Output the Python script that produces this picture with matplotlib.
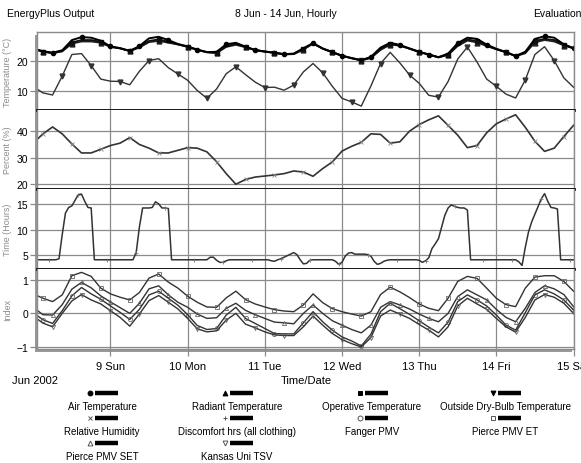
import numpy as np
import matplotlib.pyplot as plt
from matplotlib.patches import Rectangle

plt.rcParams['font.family'] = ['Liberation Sans Narrow', 'Liberation Sans', 'DejaVu Sans']

# 3-hourly samples, hours from 8 Jun 00:00
hours = np.arange(0, 169, 3)

air_temp = [24.0, 23.1, 22.6, 23.4, 26.8, 27.8, 27.6, 26.6, 24.7, 24.1, 23.2, 24.8, 27.4, 27.9, 26.8,
            25.5, 24.7, 23.6, 22.8, 22.9, 25.4, 25.9, 24.6, 23.5, 23.0, 22.6, 22.1, 22.3, 24.1, 25.8,
            24.0, 22.8, 21.6, 20.8, 20.1, 21.2, 24.3, 25.9, 25.2, 24.0, 22.9, 22.0, 21.1, 22.3, 25.8,
            27.6, 27.2, 25.3, 23.9, 22.8, 21.5, 22.9, 27.2, 28.1, 27.6, 25.4, 24.1]
radiant_temp = [23.8, 22.9, 22.4, 23.0, 25.6, 26.3, 26.3, 25.9, 24.5, 24.0, 23.1, 24.3, 26.1, 26.5, 25.9,
                25.3, 24.5, 23.5, 22.7, 22.4, 24.5, 25.2, 24.4, 23.4, 22.9, 22.5, 22.0, 22.1, 23.6, 25.6,
                23.9, 22.7, 21.5, 20.7, 20.0, 20.8, 23.5, 25.3, 24.9, 23.9, 22.8, 21.9, 21.0, 21.8, 24.8,
                26.6, 26.0, 24.8, 23.7, 22.7, 21.4, 22.4, 26.0, 26.8, 26.3, 25.0, 24.0]
operative_temp = [23.9, 23.0, 22.5, 23.2, 26.0, 26.8, 26.8, 26.2, 24.6, 24.1, 23.2, 24.5, 26.5, 27.0, 26.2,
                  25.4, 24.6, 23.6, 22.8, 22.6, 24.8, 25.5, 24.5, 23.5, 23.0, 22.6, 22.1, 22.2, 23.8, 25.7,
                  24.0, 22.8, 21.6, 20.8, 20.1, 21.0, 23.8, 25.5, 25.0, 24.0, 22.9, 22.0, 21.1, 22.0, 25.2,
                  27.0, 26.4, 25.0, 23.8, 22.8, 21.5, 22.6, 26.5, 27.2, 26.8, 25.2, 24.1]
outside_temp = [11.3, 9.2, 8.5, 14.8, 22.0, 22.3, 18.3, 13.8, 13.1, 13.0, 11.9, 16.4, 20.0, 20.6, 17.6,
                15.5, 13.4, 10.0, 7.4, 10.5, 15.6, 17.9, 15.3, 12.8, 11.0, 11.1, 10.1, 11.8, 16.2, 19.0,
                15.9, 11.4, 7.4, 6.2, 4.8, 11.5, 19.0, 22.7, 19.2, 15.2, 12.4, 8.4, 7.8, 13.0, 20.5,
                24.5, 19.5, 13.8, 11.4, 8.8, 7.5, 13.5, 22.0, 24.6, 20.0, 14.2, 11.1]
rel_humidity = [35.5, 39.0, 41.6, 39.0, 35.2, 31.8, 31.8, 33.2, 34.6, 35.5, 37.6, 35.0, 33.6, 31.8, 31.8,
                32.8, 33.8, 33.6, 32.2, 28.5, 24.0, 20.0, 21.8, 22.7, 23.1, 23.5, 24.0, 25.0, 24.6, 23.0,
                25.9, 28.4, 32.5, 34.3, 35.8, 39.0, 38.8, 35.5, 36.0, 40.0, 42.5, 44.3, 45.8, 42.2, 38.5,
                33.8, 34.6, 39.4, 42.8, 44.6, 46.2, 41.5, 36.2, 32.4, 33.6, 38.0, 42.2]
pmv_et = [0.58, 0.45, 0.35, 0.55, 1.12, 1.22, 1.10, 0.75, 0.58, 0.48, 0.40, 0.62, 1.05, 1.17, 0.93,
          0.75, 0.51, 0.33, 0.19, 0.18, 0.46, 0.66, 0.41, 0.28, 0.19, 0.11, 0.07, 0.05, 0.25, 0.58,
          0.32, 0.14, 0.05, -0.02, -0.08, 0.05, 0.56, 0.78, 0.64, 0.47, 0.28, 0.15, 0.08, 0.45, 0.95,
          1.10, 1.04, 0.75, 0.45, 0.26, 0.20, 0.75, 1.08, 1.12, 1.12, 0.95, 0.66]
pmv_set = [0.18, -0.04, -0.05, 0.26, 0.72, 0.92, 0.76, 0.52, 0.34, 0.17, 0.00, 0.30, 0.73, 0.82, 0.55,
           0.33, 0.18, -0.02, -0.15, -0.13, 0.15, 0.30, 0.09, -0.04, -0.15, -0.26, -0.28, -0.31, 0.00, 0.25,
           0.00, -0.22, -0.35, -0.48, -0.58, -0.35, 0.18, 0.35, 0.25, 0.13, -0.02, -0.15, -0.25, 0.00, 0.50,
           0.70, 0.55, 0.40, 0.12, -0.12, -0.25, 0.15, 0.62, 0.82, 0.73, 0.56, 0.20]
fanger_pmv = [0.02, -0.19, -0.30, 0.08, 0.52, 0.77, 0.58, 0.42, 0.22, 0.03, -0.18, 0.12, 0.55, 0.66, 0.45,
              0.24, -0.04, -0.36, -0.48, -0.45, -0.05, 0.18, -0.15, -0.30, -0.45, -0.60, -0.61, -0.61, -0.28, 0.05,
              -0.25, -0.50, -0.70, -0.82, -0.97, -0.62, 0.05, 0.30, 0.14, -0.03, -0.22, -0.41, -0.58, -0.26, 0.35,
              0.55, 0.40, 0.22, -0.05, -0.35, -0.50, 0.02, 0.55, 0.70, 0.58, 0.40, 0.10]
kansas_tsv = [-0.08, -0.29, -0.40, 0.00, 0.37, 0.56, 0.40, 0.28, 0.08, -0.12, -0.38, -0.02, 0.38, 0.53, 0.33,
              0.13, -0.15, -0.46, -0.55, -0.52, -0.20, 0.00, -0.32, -0.43, -0.55, -0.64, -0.66, -0.66, -0.40, -0.08,
              -0.35, -0.60, -0.78, -0.90, -1.00, -0.72, -0.08, 0.10, -0.02, -0.15, -0.33, -0.50, -0.70, -0.40, 0.22,
              0.45, 0.28, 0.12, -0.15, -0.40, -0.56, -0.12, 0.40, 0.56, 0.48, 0.30, 0.00]

# hourly discomfort hours, 01:00 8 Jun .. 24:00 14 Jun
hours_hourly = np.arange(1, 169)
discomfort = [
    4.1, 4.1, 4.1, 4.1, 4.1, 4.1, 4.1, 4.3, 9.0, 13.2, 14.3, 14.6, 15.7, 16.8, 16.9, 15.5, 14.3, 14.2, 4.1, 4.1, 4.1, 4.1, 4.1, 4.1,
    4.1, 4.1, 4.1, 4.1, 4.1, 4.1, 4.1, 5.5, 10.5, 14.2, 14.2, 14.2, 14.3, 15.4, 15.0, 14.2, 14.2, 14.1, 4.1, 4.1, 4.1, 4.1, 4.1, 4.1,
    4.1, 4.1, 4.1, 4.1, 4.1, 4.1, 4.6, 4.6, 4.0, 3.6, 3.6, 3.9, 4.1, 4.1, 4.1, 4.1, 4.1, 4.1, 4.1, 4.1, 4.1, 4.1, 4.1, 4.1,
    4.1, 3.9, 3.8, 4.1, 4.3, 4.6, 4.9, 5.2, 5.5, 5.1, 4.1, 3.3, 3.4, 4.0, 4.1, 4.1, 4.1, 4.1, 4.1, 4.1, 4.1, 3.8, 3.2, 3.6,
    4.8, 5.4, 5.5, 5.2, 5.2, 5.2, 5.2, 5.1, 4.8, 3.8, 3.2, 3.4, 3.8, 4.0, 4.1, 4.1, 4.1, 4.1, 4.1, 4.1, 4.1, 4.1, 4.1, 4.0,
    3.6, 3.9, 4.5, 6.3, 7.2, 8.2, 10.5, 12.8, 14.2, 14.8, 14.5, 14.3, 14.2, 14.2, 13.8, 4.1, 4.1, 4.1, 4.1, 4.1, 4.1, 4.1, 4.1, 4.1,
    4.1, 4.1, 4.1, 4.1, 4.1, 4.1, 3.7, 3.0, 6.5, 9.5, 11.5, 13.0, 14.5, 16.0, 17.0, 15.5, 14.3, 14.2, 14.0, 4.1, 4.1, 4.1, 4.1, 4.1,
]

day_labels = ['9 Sun', '10 Mon', '11 Tue', '12 Wed', '13 Thu', '14 Fri', '15 Sat']

W, H = 581, 464
fig = plt.figure(figsize=(W / 100, H / 100), dpi=100)


def fx(px):
    return px / W


def fy(py):
    return 1 - py / H


left, right = 36.5, 573.5
panel_edges = [33, 111, 190, 270, 350]
ylims = [(3.5, 29.5), (18.2, 48.0), (2.3, 17.9), (-1.06, 1.32)]
yticks = [[10, 20], [20, 30, 40], [5, 10, 15], [-1, 0, 1]]
ylabels = ['Temperature (\u00b0C)', 'Percent (%)', 'Time (Hours)', 'Index']

# drop shadow behind the plot frame
fig.patches.append(Rectangle((fx(left - 2), fy(panel_edges[-1] + 3)), (right - left) / W,
                             (panel_edges[-1] - panel_edges[0]) / H, transform=fig.transFigure,
                             facecolor='#9a9a9a', edgecolor='none', zorder=-5))

axes = []
for i in range(4):
    top, bot = panel_edges[i], panel_edges[i + 1]
    ax = fig.add_axes([fx(left), fy(bot), (right - left) / W, (bot - top) / H])
    ax.set_xlim(1 / 24, 7)
    ax.set_ylim(*ylims[i])
    ax.set_yticks(yticks[i])
    ax.set_xticks(range(1, 8))
    ax.grid(True, color='#8a8a8a', linewidth=0.9)
    ax.set_axisbelow(True)
    ax.tick_params(axis='y', length=5, width=0.9, color='#8a8a8a', pad=1, labelsize=7.5)
    ax.tick_params(axis='x', length=5, width=0.9, color='#8a8a8a', labelsize=8)
    for s in ax.spines.values():
        s.set_color('#8a8a8a')
        s.set_linewidth(1.0)
    if i < 3:
        ax.spines['bottom'].set_color('black')
        ax.spines['bottom'].set_linewidth(2.0)
        ax.tick_params(axis='x', length=0, labelbottom=False)
    if i > 0:
        ax.spines['top'].set_visible(False)
    ax.set_ylabel(ylabels[i], color='#8c8c8c', fontsize=6.5)
    ax.yaxis.set_label_coords((12 - left) / (right - left), 0.5)
    axes.append(ax)

ax_t, ax_p, ax_h, ax_i = axes
d = hours / 24

ax_t.plot(d, outside_temp, color='#333333', lw=1.0, marker='v', ms=3.5, markevery=(0, 3))
ax_t.plot(d, radiant_temp, color='#222222', lw=1.2, marker='^', ms=3.5, markevery=(1, 3))
ax_t.plot(d, operative_temp, color='#111111', lw=1.4, marker='s', ms=3.5, markevery=(1, 3))
ax_t.plot(d, air_temp, color='black', lw=1.4, marker='o', ms=3, markevery=(2, 3))

ax_p.plot(d, rel_humidity, color='#333333', lw=1.2, marker='x', ms=3, mew=0.6, mec='#888888',
          markevery=(1, 3))

ax_h.plot(hours_hourly / 24, discomfort, color='#333333', lw=1.1, marker='+', ms=3.5, mew=0.6,
          mec='#777777', markevery=(4, 9))

idx_style = dict(lw=1.0, color='#333333', ms=3, mfc='none', mew=0.6, mec='#666666')
ax_i.plot(d, pmv_et, marker='s', markevery=(1, 3), **idx_style)
ax_i.plot(d, pmv_set, marker='^', markevery=(2, 3), **idx_style)
ax_i.plot(d, fanger_pmv, marker='o', markevery=(1, 3), **idx_style)
ax_i.plot(d, kansas_tsv, marker='v', markevery=(2, 3), **idx_style)
ax_i.set_xticklabels(day_labels)
for lbl in ax_i.get_xticklabels():
    lbl.set_clip_on(False)

# header
fig.text(fx(7), fy(14), 'EnergyPlus Output', fontsize=7.5, va='center', ha='left')
fig.text(fx(286), fy(14), '8 Jun - 14 Jun, Hourly', fontsize=7.5, va='center', ha='center')
fig.text(fx(533), fy(14), 'Evaluation', fontsize=7.5, va='center', ha='left')

fig.text(fx(35), fy(381), 'Jun 2002', fontsize=8, va='center', ha='center')
fig.text(fx(306), fy(381), 'Time/Date', fontsize=8, va='center', ha='center')

# legend under the chart
leg = fig.add_axes([0, 0, 1, 1], facecolor='none')
leg.set_xlim(0, W)
leg.set_ylim(H, 0)
leg.axis('off')
entries = [
    ('Air Temperature', 'o', 'black'), ('Radiant Temperature', '^', 'black'),
    ('Operative Temperature', 's', 'black'), ('Outside Dry-Bulb Temperature', 'v', 'black'),
    ('Relative Humidity', 'x', 'none'), ('Discomfort hrs (all clothing)', '+', 'none'),
    ('Fanger PMV', 'o', 'none'), ('Pierce PMV ET', 's', 'none'),
    ('Pierce PMV SET', '^', 'none'), ('Kansas Uni TSV', 'v', 'none'),
]
col_x = [102, 237, 372, 505]
row_y = [394, 419, 444]
for k, (name, mk, fill) in enumerate(entries):
    cx, ry = col_x[k % 4], row_y[k // 4]
    leg.plot([cx - 7, cx + 16], [ry, ry], color='black', lw=3.2, solid_capstyle='butt')
    leg.plot([cx - 12], [ry], marker=mk, ms=3.5, mfc=fill, mec='black' if fill != 'none' else '#555555',
             mew=0.7, ls='none')
    leg.text(cx, ry + 13, name, fontsize=7, ha='center', va='center')

fig.savefig('out.png', dpi=100)
